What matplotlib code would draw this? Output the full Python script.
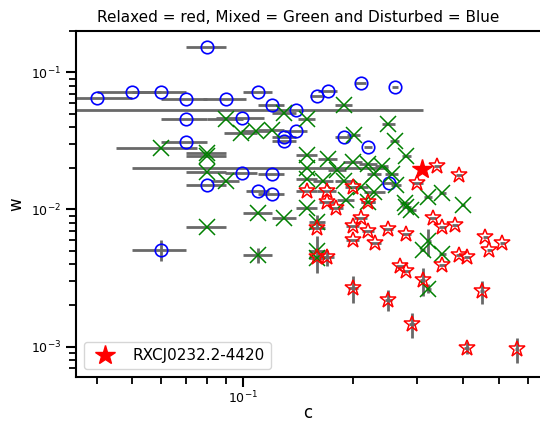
import matplotlib
matplotlib.use("Agg")
import matplotlib.pyplot as plt
from matplotlib.ticker import NullFormatter

# Disturbed clusters (blue)
dist_c = [0.080, 0.040, 0.050, 0.060, 0.070, 0.090, 0.110, 0.120, 0.140, 0.160,
          0.171, 0.210, 0.260, 0.070, 0.0995, 0.140, 0.130, 0.130, 0.189, 0.220,
          0.070, 0.0995, 0.120, 0.080, 0.110, 0.120, 0.251, 0.060]
dist_w = [0.154, 0.0652, 0.0722, 0.0717, 0.0642, 0.0642, 0.0717, 0.0576, 0.0530, 0.0671,
          0.0733, 0.0831, 0.0785, 0.0453, 0.0465, 0.0373, 0.0335, 0.0317, 0.0335, 0.0285,
          0.0308, 0.0185, 0.0180, 0.0152, 0.0136, 0.0130, 0.0156, 0.0051]
dist_cerr = [0.010, 0.010, 0.010, 0.010, 0.010, 0.012, 0.010, 0.010, 0.170, 0.007,
             0.010, 0.007, 0.005, 0.010, 0.015, 0.010, 0.010, 0.010, 0.010, 0.005,
             0.010, 0.010, 0.010, 0.010, 0.008, 0.010, 0.012, 0.010]
dist_werr = [0] * 27 + [0.0009]

# Mixed clusters (green)
mix_c = [0.090, 0.0992, 0.109, 0.120, 0.130, 0.150, 0.060, 0.080, 0.080, 0.080,
         0.090, 0.189, 0.250, 0.201, 0.260, 0.280, 0.150, 0.171, 0.200, 0.220,
         0.240, 0.150, 0.181, 0.229, 0.255, 0.150, 0.166, 0.189, 0.210, 0.229,
         0.262, 0.191, 0.277, 0.320, 0.351, 0.220, 0.280, 0.289, 0.400, 0.110,
         0.130, 0.150, 0.160, 0.110, 0.160, 0.160, 0.080, 0.321, 0.310, 0.351,
         0.321]
mix_w = [0.0459, 0.0359, 0.0373, 0.0382, 0.0509, 0.0453, 0.0279, 0.0258, 0.0247, 0.0188,
         0.0161, 0.0576, 0.0421, 0.0349, 0.0315, 0.0244, 0.0249, 0.0233, 0.0221, 0.0214,
         0.0209, 0.0200, 0.0193, 0.0180, 0.0180, 0.0167, 0.0161, 0.0161, 0.0145, 0.0134,
         0.0150, 0.0117, 0.0111, 0.0124, 0.0132, 0.0113, 0.0104, 0.00997, 0.0108, 0.00948,
         0.00864, 0.0102, 0.00815, 0.00464, 0.00496, 0.00445, 0.00746, 0.00592, 0.00504, 0.00472,
         0.00265]
mix_cerr = [0.010, 0.010, 0.010, 0.010, 0.010, 0.008, 0.015, 0.010, 0.010, 0.010,
            0.008, 0.010, 0.010, 0.008, 0.008, 0.008, 0.010, 0.010, 0.012, 0.012,
            0.010, 0.100, 0.010, 0.010, 0.010, 0.010, 0.010, 0.010, 0.010, 0.015,
            0.008, 0.010, 0.008, 0.008, 0.008, 0.010, 0.008, 0.008, 0.005, 0.010,
            0.010, 0.010, 0.008, 0.010, 0.008, 0.008, 0.010, 0.005, 0.005, 0.008,
            0.005]
mix_werr = [0] * 42 + [0.001, 0.0006, 0.0015, 0, 0, 0.0013, 0, 0, 0.0002]

# Relaxed clusters (red)
rel_c = [0.340, 0.390, 0.300, 0.150, 0.170, 0.200, 0.170, 0.220, 0.180, 0.210,
         0.200, 0.160, 0.220, 0.250, 0.280, 0.200, 0.230, 0.160, 0.170, 0.269,
         0.280, 0.310, 0.200, 0.250, 0.290, 0.409, 0.560, 0.451, 0.330, 0.351,
         0.380, 0.460, 0.471, 0.511, 0.390, 0.409, 0.351]
rel_w = [0.0209, 0.0178, 0.0156, 0.0136, 0.0136, 0.0145, 0.0114, 0.0114, 0.0102, 0.00874,
         0.00755, 0.00727, 0.00694, 0.00716, 0.00668, 0.00597, 0.00571, 0.00452, 0.00448, 0.00389,
         0.00354, 0.00306, 0.00268, 0.00220, 0.00146, 0.00098, 0.00096, 0.00253, 0.00874, 0.00746,
         0.00777, 0.00625, 0.00504, 0.00571, 0.00464, 0.00452, 0.00392]
rel_cerr = [0.008, 0.008, 0.010, 0.010, 0.010, 0.010, 0.008, 0.010, 0.008, 0.008,
            0.008, 0.008, 0.008, 0.008, 0.008, 0.008, 0.008, 0.008, 0.008, 0.006,
            0.006, 0.005, 0.006, 0.006, 0.006, 0.006, 0.006, 0.006, 0.008, 0.008,
            0.008, 0.008, 0.008, 0.008, 0.008, 0.008, 0.008]
rel_werr = [0] * 18 + [0.0006, 0, 0, 0.0007, 0.0006, 0.00037, 0.0003, 0.0001, 0.0002, 0.0005] + [0] * 9

# highlighted cluster
hl_name = "RXCJ0232.2-4420"
hl_c = [0.309]
hl_w = [0.0197]

plt.rcParams["axes.linewidth"] = 1.5
plt.rcParams["xtick.major.size"] = 7
plt.rcParams["xtick.major.width"] = 1.5
plt.rcParams["xtick.minor.size"] = 5
plt.rcParams["xtick.minor.width"] = 1.3
plt.rcParams["ytick.major.size"] = 7
plt.rcParams["ytick.major.width"] = 1.5
plt.rcParams["ytick.minor.size"] = 5
plt.rcParams["ytick.minor.width"] = 1.3
plt.rcParams["xtick.labelsize"] = 9
plt.rcParams["ytick.labelsize"] = 9
plt.rcParams["xtick.major.pad"] = 2.5

fig = plt.figure(figsize=(5.4, 4.21), dpi=100)
ax = fig.add_axes([0.1407, 0.1052, 0.8593, 0.8218])
ax.set_xscale("log")
ax.set_yscale("log")

err_kw = dict(ls="none", ecolor="dimgray", elinewidth=2, capsize=0)
ax.errorbar(dist_c, dist_w, xerr=dist_cerr, yerr=dist_werr, marker="o", ms=9,
            mfc="none", mec="blue", mew=1.2, **err_kw)
ax.errorbar(mix_c, mix_w, xerr=mix_cerr, yerr=mix_werr, marker="x", ms=11,
            mec="green", mew=1.1, **err_kw)
ax.errorbar(rel_c, rel_w, xerr=rel_cerr, yerr=rel_werr, marker="*", ms=12,
            mfc="none", mec="red", mew=1.1, **err_kw)
ax.plot(hl_c, hl_w, "*", color="red", ms=15, ls="none", label=hl_name)

ax.set_xlim(0.0351, 0.648)
ax.set_ylim(0.000604, 0.201)
ax.xaxis.set_minor_formatter(NullFormatter())
ax.spines["right"].set_visible(False)

ax.set_xlabel("c", fontsize=12)
ax.xaxis.set_label_coords(0.5, -0.08)
ax.set_ylabel("w", fontsize=12)
fig.text(298 / 540, 1 - 17 / 421, "Relaxed = red, Mixed = Green and Disturbed = Blue",
         ha="center", va="center", fontsize=11)
ax.legend(loc="lower left", fontsize=11)

fig.savefig("out.png", dpi=100)
